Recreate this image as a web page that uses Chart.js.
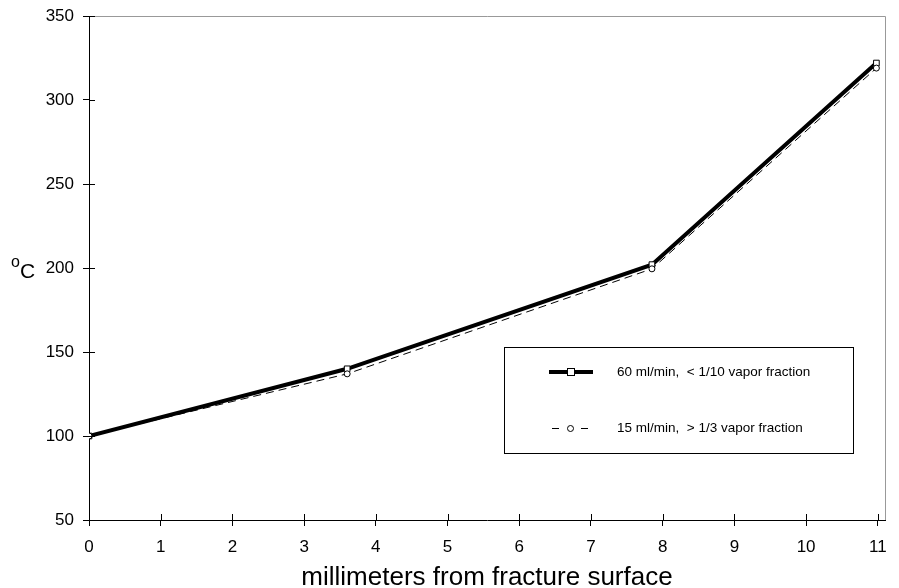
<!DOCTYPE html>
<html>
<head>
<meta charset="utf-8">
<script src="https://cdn.jsdelivr.net/npm/chart.js@4/dist/chart.umd.min.js"></script>
<style>
  html, body { margin: 0; padding: 0; background: #fff; }
  #wrap { width: 899px; height: 588px; }
</style>
</head>
<body>
<div id="wrap"><canvas id="myChart" width="899" height="588"></canvas></div>
<script>
// distances (mm) and temperatures (deg C)
var xMm = [0, 3.6, 7.85, 10.98];
var temp60 = [100, 140, 202, 322];
var temp15 = [100, 137, 199.5, 319];
var xTicks = [0, 1, 2, 3, 4, 5, 6, 7, 8, 9, 10, 11];
var yTicks = [50, 100, 150, 200, 250, 300, 350];
var legendLabels = ['60 ml/min,  < 1/10 vapor fraction', '15 ml/min,  > 1/3 vapor fraction'];

function pts(xs, ys) {
  var out = [];
  for (var i = 0; i < xs.length; i++) out.push({x: xs[i], y: ys[i]});
  return out;
}

var frame = {
  id: 'frame',
  afterDraw: function(chart) {
    var ctx = chart.ctx;
    var a = chart.chartArea;
    var xs = chart.scales.x, ys = chart.scales.y;
    ctx.save();
    // grey top and right border
    ctx.strokeStyle = '#999';
    ctx.lineWidth = 1;
    ctx.beginPath();
    ctx.moveTo(a.left, a.top + 0.5);
    ctx.lineTo(a.right + 0.5, a.top + 0.5);
    ctx.lineTo(a.right + 0.5, a.bottom);
    ctx.stroke();
    // inward tick halves
    ctx.strokeStyle = '#000';
    ctx.beginPath();
    xTicks.forEach(function(v) {
      var px = Math.round(xs.getPixelForValue(v)) + 0.5;
      ctx.moveTo(px, a.bottom);
      ctx.lineTo(px, a.bottom - 6);
    });
    yTicks.forEach(function(v) {
      var py = Math.round(ys.getPixelForValue(v)) + 0.5;
      ctx.moveTo(a.left, py);
      ctx.lineTo(a.left + 6, py);
    });
    ctx.stroke();

    // axis titles
    ctx.fillStyle = '#000';
    ctx.font = '26px "Liberation Sans", Arial, sans-serif';
    ctx.textAlign = 'center';
    ctx.textBaseline = 'alphabetic';
    ctx.fillText('millimeters from fracture surface', (a.left + a.right) / 2, 585);
    ctx.font = '21px "Liberation Sans", Arial, sans-serif';
    ctx.textAlign = 'left';
    ctx.fillText('C', 20, 278);
    ctx.font = '16px "Liberation Sans", Arial, sans-serif';
    ctx.fillText('o', 11, 267);

    // legend box
    var lx = 504, ly = 347, lw = 349, lh = 106;
    ctx.fillStyle = '#fff';
    ctx.fillRect(lx, ly, lw, lh);
    ctx.strokeStyle = '#000';
    ctx.lineWidth = 1;
    ctx.strokeRect(lx + 0.5, ly + 0.5, lw, lh);
    var rows = [372, 428];
    // row 1: thick line with square
    ctx.lineWidth = 4;
    ctx.setLineDash([]);
    ctx.beginPath();
    ctx.moveTo(549, rows[0]);
    ctx.lineTo(593, rows[0]);
    ctx.stroke();
    ctx.lineWidth = 1;
    ctx.fillStyle = '#fff';
    ctx.fillRect(567, rows[0] - 3, 7, 7);
    ctx.strokeRect(567.5, rows[0] - 3.5, 7, 7);
    // row 2: dashed with circle
    ctx.beginPath();
    ctx.moveTo(552, rows[1] + 0.5); ctx.lineTo(559, rows[1] + 0.5);
    ctx.moveTo(581, rows[1] + 0.5); ctx.lineTo(588, rows[1] + 0.5);
    ctx.stroke();
    ctx.beginPath();
    ctx.arc(570.5, rows[1] + 0.5, 3, 0, Math.PI * 2);
    ctx.fill();
    ctx.stroke();
    ctx.fillStyle = '#000';
    ctx.font = '13.5px "Liberation Sans", Arial, sans-serif';
    ctx.textBaseline = 'middle';
    ctx.textAlign = 'left';
    ctx.fillText(legendLabels[0], 617, rows[0]);
    ctx.fillText(legendLabels[1], 617, rows[1]);
    ctx.restore();
  }
};

var ctx = document.getElementById('myChart');
var chart = new Chart(ctx, {
  type: 'scatter',
  data: {
    datasets: [{
      label: legendLabels[1],
      data: pts(xMm, temp15),
      showLine: true,
      borderColor: '#000',
      borderWidth: 1,
      borderDash: [8, 5],
      pointStyle: 'circle',
      pointRadius: 3,
      pointBackgroundColor: '#fff',
      pointBorderColor: '#000',
      pointBorderWidth: 1
    }, {
      label: legendLabels[0],
      data: pts(xMm, temp60),
      showLine: true,
      borderColor: '#000',
      borderWidth: 4,
      pointStyle: 'rect',
      pointRadius: 4,
      pointBackgroundColor: '#fff',
      pointBorderColor: '#000',
      pointBorderWidth: 1
    }]
  },
  options: {
    responsive: false,
    animation: false,
    layout: { padding: { left: 0, top: 16, right: 14, bottom: 0 } },
    plugins: { legend: { display: false }, tooltip: { enabled: false } },
    scales: {
      x: {
        type: 'linear',
        min: 0,
        max: 11.1,
        afterBuildTicks: function(s) { s.ticks = xTicks.map(function(v) { return {value: v}; }); },
        afterFit: function(s) { s.height = 68; s.paddingLeft = 0; s.paddingRight = 0; },
        grid: { drawOnChartArea: false, tickLength: 6, color: '#000' },
        border: { color: '#000' },
        ticks: { color: '#000', padding: 11, maxRotation: 0, font: { size: 17, family: '"Liberation Sans", Arial, sans-serif' } }
      },
      y: {
        type: 'linear',
        min: 50,
        max: 350,
        afterBuildTicks: function(s) { s.ticks = yTicks.map(function(v) { return {value: v}; }); },
        afterFit: function(s) { s.width = 89; s.paddingTop = 0; s.paddingBottom = 0; },
        grid: { drawOnChartArea: false, tickLength: 6, color: '#000' },
        border: { color: '#000' },
        ticks: { color: '#000', padding: 9, font: { size: 17, family: '"Liberation Sans", Arial, sans-serif' } }
      }
    }
  },
  plugins: [frame]
});
</script>
</body>
</html>
